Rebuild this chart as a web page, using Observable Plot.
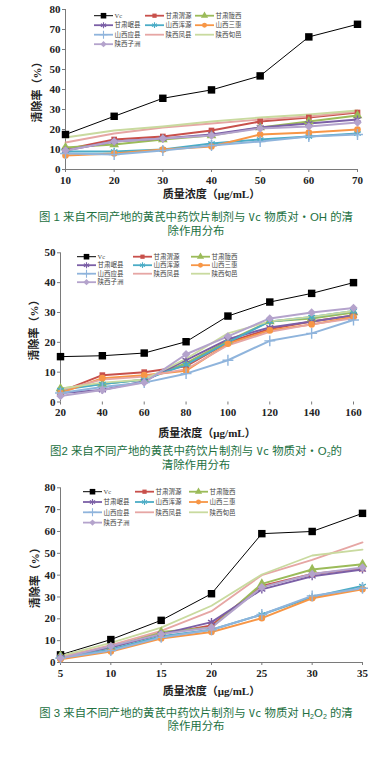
<!DOCTYPE html>
<html><head><meta charset="utf-8">
<script src="https://cdn.jsdelivr.net/npm/d3@7"></script>
<script src="https://cdn.jsdelivr.net/npm/@observablehq/plot@0.6"></script>
<style>
body{margin:0;background:#fff;}
#root{position:relative;width:392px;height:757px;overflow:hidden;background:#fff;}
.fig{position:absolute;left:0;}
.cap{position:absolute;left:0;width:392px;height:13.5px;text-align:center;color:#22703f;font-family:"Liberation Sans","Noto Sans CJK SC",sans-serif;font-size:11.4px;line-height:13.5px;white-space:nowrap;}
.cap .m{font-family:"DejaVu Sans Mono",monospace;font-size:10.5px;}
</style></head><body><div id="root"></div>
<script>
// ---------- data ----------
const series = ["Vc","甘肃渭源","甘肃陇西","甘肃岷县","山西浑源","山西三惠","山西应县","陕西凤县","陕西旬邑","陕西子洲"];
const palette = ["#000000","#c8504b","#9bbb59","#7b5fa6","#4bacc6","#f79646","#8fb4dc","#e6a6a4","#c9da9f","#b4a3cc"];

// Fig 1: ·OH
const ohX = [10,20,30,40,50,60,70];
const ohY = [
  [17.5,26.6,35.6,39.8,46.8,66.3,72.6],
  [10,15,16.5,19.5,24,26,28.5],
  [11,12.5,15,17,21,24,27],
  [9.5,14,15.5,17.5,21,23,25],
  [9,9,10,13,15,16.5,18],
  [7,8,10,11.5,17.5,18.5,20],
  [8,7.5,9.5,12,14,16.5,17.5],
  [13.5,18,21,23,25,26.5,29],
  [16,19.5,21.5,24,26,27.5,29.5],
  [9.5,14,15.5,17,20.5,21.5,23.5]
];
const ohYTicks = [0,10,20,30,40,50,60,70,80];

// Fig 2: ·O2-
const o2X = [20,40,60,80,100,120,140,160];
const o2Y = [
  [15.2,15.5,16.4,20.2,28.8,33.5,36.4,40],
  [3.5,9,10,12,20,24.5,27,29],
  [4.5,6,7.5,13,20.5,27,28,30],
  [3,4,7,14,21,25,27,29],
  [4,6,7.5,12.5,20,27,28.5,30.5],
  [3,8,9,10.5,19.5,24,26,28.5],
  [3,5,6.5,9.5,14,20.5,23,27.5],
  [4,7.5,8.5,11,19,23.5,26,28],
  [4.5,6.5,7.5,14.5,23,27,28.5,30.5],
  [2,4,6.5,16,22,28,30,31.5]
];
const o2YTicks = [0,10,20,30,40,50];

// Fig 3: H2O2
const hX = [5,10,15,20,25,30,35];
const hY = [
  [3.5,10.5,19.3,31.5,59,60,68.3],
  [2.5,7,13,17,35,40.5,43],
  [3,7,14,16,36,42.6,45],
  [2.5,7,13,18.5,33.5,39.5,42.6],
  [2,6,12,15,22,30,35],
  [1.5,5,11,14,20.3,29.4,33.5],
  [2,5.5,11.5,15,22,30.5,34],
  [2.5,8,14.5,23.5,40,47,55],
  [3,9,16,26,40.3,49,51.7],
  [2,7.5,13,16,34.5,40.5,43.5]
];
const hYTicks = [0,10,20,30,40,50,60,70,80];

// ---------- styles ----------
const markers = [
  {symbol:"square", r:4.2, fill:true, sw:1},
  {symbol:"square", r:3.2, fill:true, sw:2},
  {symbol:"triangle", r:3.6, fill:true, sw:2},
  {symbol:"asterisk", r:3.8, fill:false, sw:2},
  {symbol:"asterisk", r:3.6, fill:false, sw:2},
  {symbol:"circle", r:3.3, fill:true, sw:2},
  {symbol:"plus", r:3.6, fill:false, sw:2},
  {symbol:null, sw:1.8},
  {symbol:null, sw:1.8},
  {symbol:"diamond2", r:3.8, fill:true, sw:2}
];
const d3sym = {square:d3.symbolSquare, triangle:d3.symbolTriangle, asterisk:d3.symbolAsterisk, circle:d3.symbolCircle, plus:d3.symbolPlus, diamond2:d3.symbolDiamond2};

function makeChart(cfg){
  const rows = [];
  cfg.ys.forEach((vals, si) => vals.forEach((v, i) => rows.push({s: series[si], si, x: cfg.xs[i], y: v})));
  const marks = [Plot.ruleX([cfg.xDomain[0]], {stroke:"#7a7a7a"})];
  if (cfg.xLine) marks.push(Plot.ruleY([cfg.yDomain[0]], {stroke:"#7a7a7a"}));
  marks.push(Plot.axisY({ticks: cfg.yTicks, tickSize: 3, tickPadding: 2, stroke:"#7a7a7a",
    label: "清除率（%）", labelAnchor: "center", labelArrow: "none", labelOffset: cfg.yLabelOffset}));
  marks.push(Plot.axisX({ticks: cfg.xs, tickSize: 3, tickPadding: 3.5, stroke:"#7a7a7a",
    label: "质量浓度（μg/mL）", labelAnchor: "center", labelArrow: "none", labelOffset: cfg.xLabelOffset}));
  series.forEach((name, si) => {
    const d = rows.filter(r => r.si === si);
    marks.push(Plot.line(d, {x:"x", y:"y", stroke: palette[si], strokeWidth: markers[si].sw}));
  });
  series.forEach((name, si) => {
    const m = markers[si];
    if (!m.symbol) return;
    const d = rows.filter(r => r.si === si);
    const o = {x:"x", y:"y", symbol: m.symbol, r: m.r};
    if (m.fill) { o.fill = palette[si]; o.stroke = "none"; }
    else { o.stroke = palette[si]; o.strokeWidth = 1.4; o.fill = "none"; }
    marks.push(Plot.dot(d, o));
  });
  const svg = Plot.plot({
    width: 392, height: cfg.height,
    marginTop: cfg.mt, marginBottom: cfg.mb, marginLeft: cfg.ml, marginRight: cfg.mr,
    x: {domain: cfg.xDomain},
    y: {domain: cfg.yDomain},
    style: {fontFamily: '"Liberation Serif","Noto Sans CJK SC",serif', fontSize: "11px", fontWeight: "bold", color: "#222", background: "transparent"},
    marks
  });
  // in-plot legend
  const g = d3.select(svg).append("g").attr("class","legend").attr("text-anchor","start");
  series.forEach((name, si) => {
    const col = si % 3, row = Math.floor(si / 3);
    const x0 = cfg.legend.cols[col], y0 = cfg.legend.y0 + row * cfg.legend.step;
    const L = cfg.legend.len;
    g.append("line").attr("x1", x0).attr("x2", x0 + L).attr("y1", y0).attr("y2", y0)
      .attr("stroke", palette[si]).attr("stroke-width", si === 0 ? 1 : 1.8);
    const m = markers[si];
    if (m.symbol) {
      const p = g.append("path").attr("transform", `translate(${x0 + L/2},${y0})`)
        .attr("d", d3.symbol(d3sym[m.symbol], Math.PI * (m.r*0.75) ** 2)());
      if (m.fill) p.attr("fill", palette[si]); else p.attr("fill","none").attr("stroke", palette[si]).attr("stroke-width", 1.1);
    }
    g.append("text").attr("x", x0 + L + 1.5).attr("y", y0).attr("dy", "0.35em")
      .attr("text-anchor", "start")
      .attr("font-size", "6.5px").attr("font-weight", "normal").attr("fill", "#444")
      .attr("font-family", si === 0 ? '"Liberation Serif",serif' : '"Noto Sans CJK SC",sans-serif')
      .text(name);
  });
  return svg;
}

const root = document.getElementById("root");
function place(el, top){ const d = document.createElement("div"); d.className = "fig"; d.style.top = top + "px"; d.appendChild(el); root.appendChild(d); }
function caption(lines, top, step){
  lines.forEach((html, i) => {
    const d = document.createElement("div"); d.className = "cap";
    d.style.top = (top + i * step) + "px"; d.innerHTML = html; root.appendChild(d);
  });
}
const sub = t => `<span style="font-size:7px;vertical-align:-1.5px;line-height:0">${t}</span>`;

place(makeChart({xs: ohX, ys: ohY, xDomain:[10,70], yDomain:[0,80], yTicks: ohYTicks, xLine: true,
  height: 200, mt: 9, mb: 31, ml: 65, mr: 35, yLabelOffset: 32, xLabelOffset: 28,
  legend: {cols:[94,145,195], y0: 15.7, step: 9.5, len: 19}}), 0);
caption(['图 1 来自不同产地的黄芪中药饮片制剂与 <span class="m">Vc</span> 物质对・OH 的清', '除作用分布'], 211.2, 13.6);

place(makeChart({xs: o2X, ys: o2Y, xDomain:[20,160], yDomain:[0,50], yTicks: o2YTicks, xLine: false,
  height: 200, mt: 12.3, mb: 38.5, ml: 60, mr: 39, yLabelOffset: 30, xLabelOffset: 34.5,
  legend: {cols:[77,133,191], y0: 16.7, step: 8.5, len: 19}}), 240);
caption(['图2 来自不同产地的黄芪中药饮片制剂与 <span class="m">Vc</span> 物质对・O' + sub("2") + '的', '清除作用分布'], 445.3, 14);

place(makeChart({xs: hX, ys: hY, xDomain:[5,35], yDomain:[0,80], yTicks: hYTicks, xLine: true,
  height: 225, mt: 12.3, mb: 38, ml: 60, mr: 30, yLabelOffset: 29, xLabelOffset: 32,
  legend: {cols:[83,135,189], y0: 16.7, step: 10.3, len: 19}}), 475);
caption(['图 3 来自不同产地的黄芪中药饮片制剂与 <span class="m">Vc</span> 物质对 H' + sub("2") + 'O' + sub("2") + ' 的清', '除作用分布'], 706.8, 13.6);
</script></body></html>
